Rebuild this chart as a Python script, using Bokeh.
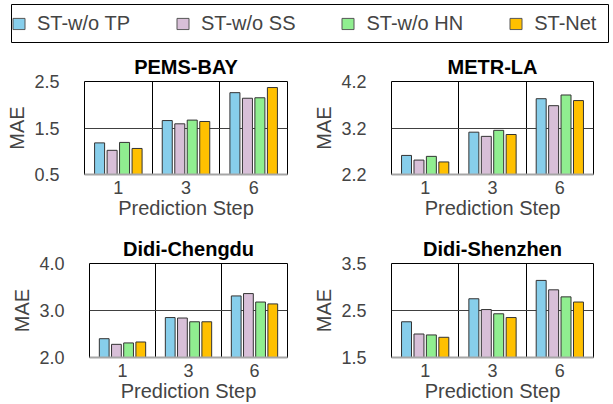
from bokeh.plotting import figure
from bokeh.layouts import column, row
from bokeh.models import Range1d, FixedTicker, Legend, LegendItem, PrintfTickFormatter
from bokeh.embed import file_html
from bokeh.resources import INLINE

FONT = "Liberation Sans"

models = ["ST-w/o TP", "ST-w/o SS", "ST-w/o HN", "ST-Net"]
steps = ["1", "3", "6"]
colors = ["#87CEEB", "#D8BFD8", "#90EE90", "#FFC000"]

# PEMS-BAY
pems_tp = [1.18, 1.66, 2.26]
pems_ss = [1.02, 1.59, 2.14]
pems_hn = [1.19, 1.67, 2.15]
pems_net = [1.06, 1.64, 2.37]
pems_ticks = [0.5, 1.5, 2.5]

# METR-LA
metr_tp = [2.61, 3.11, 3.83]
metr_ss = [2.51, 3.02, 3.68]
metr_hn = [2.59, 3.15, 3.91]
metr_net = [2.47, 3.06, 3.79]
metr_ticks = [2.2, 3.2, 4.2]

# Didi-Chengdu
cd_tp = [2.40, 2.85, 3.31]
cd_ss = [2.28, 2.84, 3.36]
cd_hn = [2.31, 2.76, 3.18]
cd_net = [2.33, 2.76, 3.14]
cd_ticks = [2.0, 3.0, 4.0]

# Didi-Shenzhen
sz_tp = [2.26, 2.75, 3.14]
sz_ss = [2.00, 2.52, 2.94]
sz_hn = [1.98, 2.43, 2.79]
sz_net = [1.93, 2.35, 2.68]
sz_ticks = [1.5, 2.5, 3.5]

offsets = [-0.277, -0.092, 0.092, 0.277]
bar_w = 0.148


def make_panel(title, series_list, ticks, w, h, bl, br, bt, bb):
    lo, hi = ticks[0], ticks[-1]
    p = figure(width=w, height=h, x_range=Range1d(0, len(steps)), y_range=Range1d(lo, hi),
               output_backend="svg", toolbar_location=None, title=title,
               min_border_left=bl, min_border_right=br, min_border_top=bt, min_border_bottom=bb)
    for k, (series, color) in enumerate(zip(series_list, colors)):
        xs = [i + 0.5 + offsets[k] for i in range(len(steps))]
        p.vbar(x=xs, top=series, bottom=lo, width=bar_w, fill_color=color,
               line_color="#333333", line_width=1)
    # title
    p.title.text_font = FONT
    p.title.text_font_size = "20px"
    p.title.text_font_style = "bold"
    p.title.align = "center"
    p.title.standoff = 8
    p.title.text_color = "black"
    # x axis
    centers = [i + 0.5 for i in range(len(steps))]
    p.xaxis.ticker = FixedTicker(ticks=centers)
    p.xaxis.major_label_overrides = {c: s for c, s in zip(centers, steps)}
    p.xaxis.axis_label = "Prediction Step"
    p.xaxis.axis_label_text_font = FONT
    p.xaxis.axis_label_text_font_size = "20px"
    p.xaxis.axis_label_text_font_style = "normal"
    p.xaxis.axis_label_standoff = 0
    p.xaxis.major_label_text_font = FONT
    p.xaxis.major_label_text_font_size = "18px"
    p.xaxis.major_label_standoff = 0
    p.xaxis.major_tick_line_color = None
    p.xaxis.minor_tick_line_color = None
    p.xaxis.axis_line_color = "#A6A6A6"
    p.xaxis.axis_line_width = 2
    # y axis
    p.yaxis.ticker = FixedTicker(ticks=ticks)
    p.yaxis.formatter = PrintfTickFormatter(format="%.1f")
    p.yaxis.axis_label = "MAE"
    p.yaxis.axis_label_text_font = FONT
    p.yaxis.axis_label_text_font_size = "20px"
    p.yaxis.axis_label_text_font_style = "normal"
    p.yaxis.axis_label_standoff = 3
    p.yaxis.major_label_text_font = FONT
    p.yaxis.major_label_text_font_size = "18px"
    p.yaxis.major_label_standoff = 19
    p.yaxis.major_tick_line_color = None
    p.yaxis.minor_tick_line_color = None
    p.yaxis.axis_line_color = None
    # grids
    p.xgrid.ticker = FixedTicker(ticks=[i for i in range(1, len(steps))])
    p.xgrid.grid_line_color = "black"
    p.xgrid.grid_line_width = 1
    p.ygrid.ticker = FixedTicker(ticks=ticks[1:-1])
    p.ygrid.grid_line_color = "#404040"
    p.ygrid.grid_line_width = 1
    p.outline_line_color = "black"
    p.outline_line_alpha = 1
    p.outline_line_width = 1
    p.background_fill_color = "white"
    p.border_fill_color = "white"
    return p


# legend figure (the box is the figure's frame outline)
lg = figure(width=613, height=46, x_range=Range1d(0, 1), y_range=Range1d(0, 1),
            output_backend="svg", toolbar_location=None,
            min_border_left=11, min_border_right=5, min_border_top=4, min_border_bottom=4)
lg.axis.visible = False
lg.grid.visible = False
lg.outline_line_color = "black"
lg.outline_line_alpha = 1
items = []
for name, color in zip(models, colors):
    # hidden proxy renderer (outside the visible range) used only for its legend swatch
    r = lg.vbar(x=[5], top=[0], width=0.1, fill_color=color, line_color="#555555", line_width=1)
    items.append(LegendItem(label=name, renderers=[r]))
legend = Legend(items=items, orientation="horizontal", location="left",
                margin=0, padding=10, spacing=45, glyph_width=15, glyph_height=14,
                label_standoff=11, label_text_font=FONT, label_text_font_size="20px",
                border_line_color=None, background_fill_alpha=0)
lg.add_layout(legend, "center")

p1 = make_panel("PEMS-BAY", [pems_tp, pems_ss, pems_hn, pems_net], pems_ticks,
                306, 184, 84, 19, 35, 56)
p2 = make_panel("METR-LA", [metr_tp, metr_ss, metr_hn, metr_net], metr_ticks,
                307, 184, 85, 20, 35, 56)
p3 = make_panel("Didi-Chengdu", [cd_tp, cd_ss, cd_hn, cd_net], cd_ticks,
                306, 174, 89, 19, 33, 47)
p4 = make_panel("Didi-Shenzhen", [sz_tp, sz_ss, sz_hn, sz_net], sz_ticks,
                307, 174, 85, 20, 33, 47)

layout = column(lg, row(p1, p2), row(p3, p4))
open("out.html", "w").write(file_html(layout, INLINE))
